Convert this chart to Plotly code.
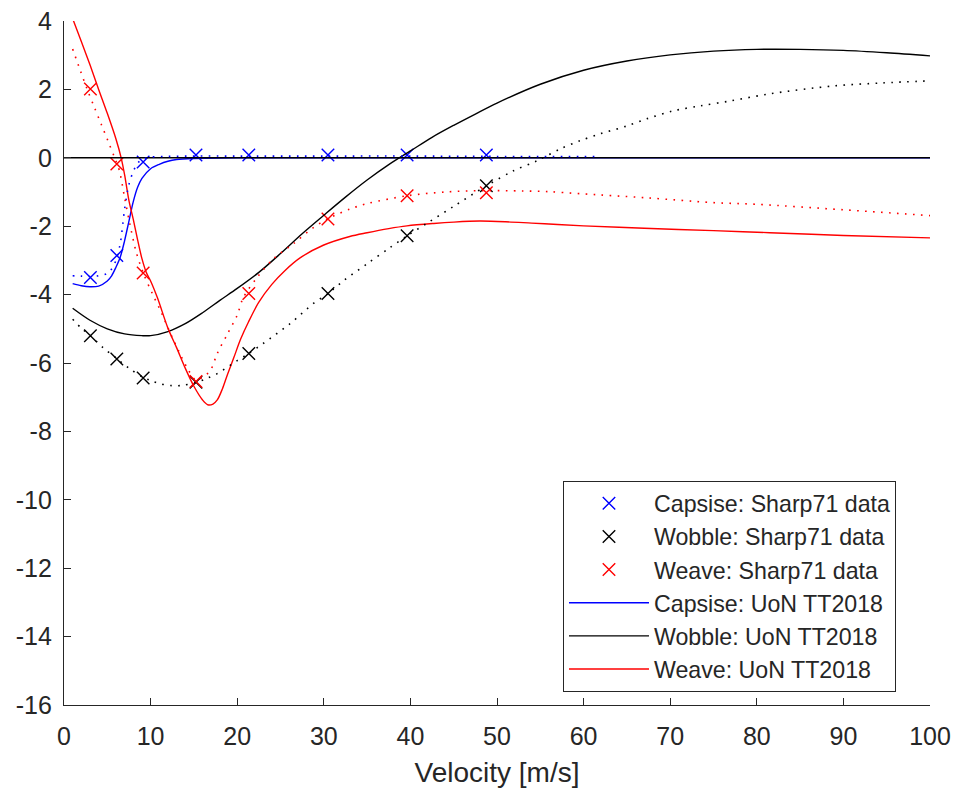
import plotly.graph_objects as go

# ---- Sharp (1971) measured eigenvalue real parts at the test speeds ----
sharp71_speed = [3.05, 6.10, 9.14, 15.24, 21.34, 30.48, 39.62, 48.77]
capsize_sharp71 = [-3.50, -2.86, -0.12, 0.08, 0.08, 0.08, 0.08, 0.08]
wobble_sharp71 = [-5.20, -5.88, -6.44, -6.56, -5.72, -3.97, -2.28, -0.82]
weave_sharp71 = [2.01, -0.18, -3.37, -6.54, -3.97, -1.79, -1.11, -1.02]

# ---- Sharp (1971) model curves (dotted) ----
capsize_model_speed = [1, 2, 3, 4, 5, 5.5, 6, 6.5, 7, 7.5, 8, 8.5, 9, 10, 12,
                       15, 20, 30, 40, 50, 61.5]
capsize_model = [-3.45, -3.46, -3.47, -3.45, -3.38, -3.25, -3.0, -2.5, -1.5,
                 -0.78, -0.4, -0.16, -0.05, 0.02, 0.04, 0.05, 0.05, 0.05,
                 0.05, 0.04, 0.04]

wobble_model_speed = [1, 2, 3.05, 4.5, 6.1, 7.5, 9.14, 10, 11, 12.3, 13.5,
                      15.24, 16.5, 17.7, 20, 21.34, 23, 26.1, 28.8, 30.48,
                      32.3, 35, 37.5, 39.62, 42, 45, 48.77, 51.9, 54.6, 57.3,
                      59.6, 61.9, 65, 67.3, 70.3, 73.5, 76.9, 81.5, 88.8,
                      94.6, 100]
wobble_model = [-4.72, -4.98, -5.2, -5.55, -5.87, -6.15, -6.42, -6.51, -6.6,
                -6.66, -6.66, -6.57, -6.45, -6.31, -5.93, -5.72, -5.43, -4.85,
                -4.26, -3.97, -3.59, -3.1, -2.65, -2.28, -1.9, -1.42, -0.82,
                -0.38, -0.09, 0.26, 0.5, 0.7, 0.93, 1.14, 1.37, 1.52, 1.66,
                1.87, 2.1, 2.19, 2.25]

weave_model_speed = [1, 1.9, 2.68, 3.5, 4.3, 5.1, 5.85, 6.4, 7.0, 7.6, 8.3,
                     9.14, 10.2, 11.2, 12.3, 13.3, 14.2, 15.24, 16.0, 16.9,
                     17.7, 18.9, 20.0, 20.7, 22.3, 24.2, 26.5, 28.8, 30.48,
                     33, 35, 39.62, 44, 48.4, 53, 56, 59.6, 67.3, 74.9, 80,
                     90, 100]
weave_model = [3.18, 2.54, 2.0, 1.48, 0.98, 0.48, 0.0, -0.38, -1.17, -1.93,
               -2.72, -3.36, -3.97, -4.5, -5.14, -5.68, -6.13, -6.5, -6.42,
               -6.22, -5.72, -5.14, -4.6, -4.09, -3.5, -2.95, -2.51, -2.04,
               -1.78, -1.5, -1.34, -1.11, -1.0, -0.96, -0.97, -0.99, -1.05,
               -1.17, -1.31, -1.36, -1.52, -1.69]

# ---- UoN TT2018 model curves (solid) ----
capsize_uon_speed = [1, 2, 3, 4, 5, 5.5, 6, 6.5, 7, 7.5, 8, 8.5, 9, 10, 11,
                     12, 13, 15, 20, 30, 50, 100]
capsize_uon = [-3.68, -3.74, -3.77, -3.75, -3.6, -3.45, -3.2, -2.9, -2.42,
               -1.85, -1.28, -0.86, -0.6, -0.32, -0.19, -0.1, -0.05, -0.02,
               0.0, 0.0, 0.0, 0.0]

wobble_uon_speed = [1, 3, 5, 7, 9, 10, 12, 14, 16, 18, 20, 22.5, 25, 27.5, 30,
                    32.5, 35, 37.5, 40, 42.5, 45, 47.5, 50, 55, 60, 65, 70,
                    75, 80, 85, 90, 95, 100]
wobble_uon = [-4.4, -4.75, -5.0, -5.15, -5.2, -5.2, -5.08, -4.85, -4.53,
              -4.17, -3.82, -3.35, -2.8, -2.22, -1.68, -1.15, -0.65, -0.2,
              0.2, 0.6, 0.95, 1.28, 1.6, 2.15, 2.56, 2.83, 3.01, 3.12, 3.17,
              3.17, 3.14, 3.07, 2.98]

weave_uon_speed = [1, 2, 3, 4, 5, 6, 6.6, 7, 7.5, 8, 8.5, 9, 9.5, 10, 10.8,
                   12, 13, 14, 15, 16, 16.6, 17.2, 17.7, 18.3, 18.9, 19.6,
                   20.4, 21.3, 22.5, 24, 25.5, 27.3, 30, 33, 35, 37.5, 39.6,
                   42.7, 45, 48, 51, 54, 57, 60, 67, 75, 81.5, 90, 100]
weave_uon = [4.07, 3.4, 2.72, 2.0, 1.3, 0.55, 0.0, -0.5, -1.25, -1.8, -2.4,
             -2.95, -3.35, -3.6, -4.1, -4.98, -5.55, -6.15, -6.68, -7.08,
             -7.22, -7.2, -7.08, -6.75, -6.32, -5.85, -5.3, -4.8, -4.22,
             -3.7, -3.3, -2.92, -2.55, -2.3, -2.19, -2.07, -1.99, -1.92,
             -1.88, -1.85, -1.87, -1.91, -1.95, -1.99, -2.06, -2.13, -2.19,
             -2.27, -2.34]

# zero reference line
zero_speed = [0, 100]
zero_value = [0, 0]

# axis ticks
x_ticks = [0, 10, 20, 30, 40, 50, 60, 70, 80, 90, 100]
x_ticktext = ["0", "10", "20", "30", "40", "50", "60", "70", "80", "90", "100"]
y_ticks = [-16, -14, -12, -10, -8, -6, -4, -2, 0, 2, 4]
y_ticktext = ["-16", "-14", "-12", "-10", "-8", "-6", "-4", "-2", "0", "2", "4"]

BLUE = "rgb(0,0,255)"
BLACK = "rgb(0,0,0)"
RED = "rgb(255,0,0)"
AXIS = "#262626"
FONT = "Liberation Sans, Arial, Helvetica, sans-serif"
DOT = "1.6px,6.4px"

fig = go.Figure()

# measured data (crosses) - first in the legend
for name, vals, col, rank in [
    ("Capsise: Sharp71 data", capsize_sharp71, BLUE, 1),
    ("Wobble: Sharp71 data", wobble_sharp71, BLACK, 2),
    ("Weave: Sharp71 data", weave_sharp71, RED, 3),
]:
    fig.add_trace(go.Scatter(
        x=sharp71_speed, y=vals, mode="markers", name=name, legendrank=rank,
        marker=dict(symbol="x-thin-open", size=12.5, color=col,
                    line=dict(color=col, width=1.4)),
    ))

# UoN TT2018 model (solid)
for name, xs, ys, col, rank in [
    ("Capsise: UoN TT2018", capsize_uon_speed, capsize_uon, BLUE, 4),
    ("Wobble: UoN TT2018", wobble_uon_speed, wobble_uon, BLACK, 5),
    ("Weave: UoN TT2018", weave_uon_speed, weave_uon, RED, 6),
]:
    fig.add_trace(go.Scatter(
        x=xs, y=ys, mode="lines", name=name, legendrank=rank,
        line=dict(color=col, width=1.4, shape="spline", smoothing=0.9),
    ))

# zero line
fig.add_trace(go.Scatter(
    x=zero_speed, y=zero_value, mode="lines", showlegend=False,
    line=dict(color=BLACK, width=1.4), hoverinfo="skip",
))

# Sharp71 model (dotted, not in legend)
for xs, ys, col in [
    (capsize_model_speed, capsize_model, BLUE),
    (wobble_model_speed, wobble_model, BLACK),
    (weave_model_speed, weave_model, RED),
]:
    fig.add_trace(go.Scatter(
        x=xs, y=ys, mode="lines", showlegend=False,
        line=dict(color=col, width=1.6, dash=DOT, shape="spline",
                  smoothing=0.9),
    ))

axis_common = dict(
    showgrid=False, zeroline=False, showline=True, linecolor=AXIS,
    linewidth=1.3, ticks="inside", ticklen=7, tickwidth=1.3,
    tickcolor=AXIS, mirror=False, automargin=False,
    tickfont=dict(family=FONT, size=25, color=AXIS),
)

fig.update_layout(
    width=958, height=793,
    margin=dict(l=64, r=28, t=21, b=88),
    paper_bgcolor="white", plot_bgcolor="white",
    font=dict(family=FONT, color=AXIS),
    xaxis=dict(range=[0, 100], tickvals=x_ticks, ticktext=x_ticktext,
               ticklabelstandoff=9,
               title=dict(text="Velocity [m/s]", standoff=13,
                          font=dict(family=FONT, size=28, color=AXIS)),
               **axis_common),
    yaxis=dict(range=[-16, 4], tickvals=y_ticks, ticktext=y_ticktext,
               ticklabelstandoff=6, **axis_common),
    legend=dict(x=0.5762, y=0.328, xanchor="left", yanchor="top",
                bgcolor="white", bordercolor=AXIS, borderwidth=1,
                font=dict(family=FONT, size=23.2, color=AXIS),
                itemwidth=80, tracegroupgap=0),
    showlegend=True,
)

fig.write_html("out.html")
